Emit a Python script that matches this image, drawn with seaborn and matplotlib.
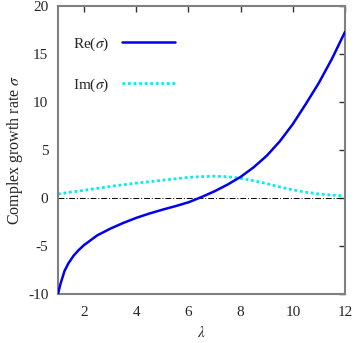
import numpy as np
import pandas as pd
import seaborn as sns
import matplotlib
matplotlib.use("Agg")
import matplotlib.pyplot as plt

lam = [1.0, 1.1, 1.25, 1.4, 1.6, 1.8, 2.0, 2.5, 3.0, 3.5, 4.0, 4.5, 5.0, 5.5, 6.0,
       6.5, 7.0, 7.5, 8.0, 8.5, 9.0, 9.5, 10.0, 10.5, 11.0, 11.5, 12.0]
re_sigma = [-10.0, -8.9, -7.6, -6.8, -6.0, -5.4, -4.9, -3.9, -3.2, -2.6, -2.07,
            -1.62, -1.22, -0.85, -0.45, 0.1, 0.7, 1.4, 2.2, 3.2, 4.4, 5.9, 7.7,
            9.8, 12.0, 14.5, 17.3]
im_sigma = [0.42, 0.46, 0.52, 0.58, 0.66, 0.73, 0.8, 1.0, 1.2, 1.38, 1.55, 1.7,
            1.85, 2.0, 2.15, 2.23, 2.27, 2.22, 2.05, 1.8, 1.5, 1.15, 0.85, 0.6,
            0.42, 0.3, 0.22]
x_ticks = [2, 4, 6, 8, 10, 12]
y_ticks = [-10, -5, 0, 5, 10, 15, 20]
zero_level = 0.0

sns.set_style("white")
plt.rcParams['font.family'] = ['Liberation Serif', 'DejaVu Serif']
plt.rcParams['mathtext.fontset'] = 'stix'
plt.rcParams['axes.unicode_minus'] = False

df = pd.DataFrame({"lam": lam, "re": re_sigma, "im": im_sigma})

fig = plt.figure(figsize=(3.54, 3.43), dpi=100)
ax = fig.add_axes([58/354, 1 - 294/343, (345 - 58)/354, (294 - 6)/343])

ax.axhline(zero_level, color='black', lw=0.7, ls=(0, (6, 2, 1, 2)), zorder=1)
sns.lineplot(data=df, x="lam", y="re", ax=ax, color='#0000ee', lw=1.8,
             label=r'Re($\sigma$)', zorder=3)
sns.lineplot(data=df, x="lam", y="im", ax=ax, color='#00eeee', lw=2.0,
             ls=(0, (1, 1)), label=r'Im($\sigma$)', zorder=2)

ax.set_xlim(1, 12)
ax.set_ylim(-10, 20)
ax.set_xticks(x_ticks)
ax.set_yticks(y_ticks)
ax.tick_params(direction='in', top=True, right=True, length=4, width=1,
               color='#333333', labelsize=11, pad=7)
ax.tick_params(axis='x', pad=9)
for s in ax.spines.values():
    s.set_color('#808080')
    s.set_linewidth(1.5)
    s.set_visible(True)

ax.set_xlabel(r'$\lambda$', fontsize=11, labelpad=4)
ax.set_ylabel(r'Complex growth rate $\sigma$', fontsize=11.5, labelpad=2)

leg = ax.legend(loc='upper left', bbox_to_anchor=(0.005, 0.945), frameon=False,
                markerfirst=False, handlelength=3.5, labelspacing=1.55,
                fontsize=11, handletextpad=0.8)

fig.savefig("out.png", dpi=100)
